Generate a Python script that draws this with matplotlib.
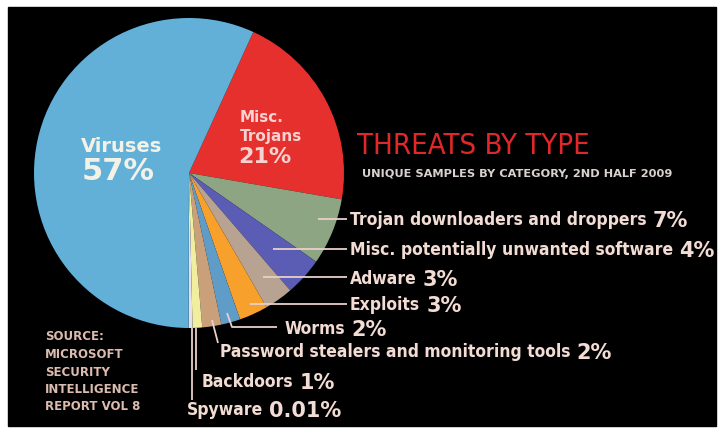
import matplotlib
matplotlib.use("Agg")
import matplotlib.pyplot as plt
from matplotlib.patches import Rectangle

# ---- data (clockwise from the top of the red slice) ----
slice_names = ["Misc. Trojans", "Trojan downloaders and droppers",
               "Misc. potentially unwanted software", "Adware", "Exploits",
               "Worms", "Password stealers and monitoring tools", "Backdoors",
               "Spyware", "Viruses"]
slice_shares = [21, 7, 4, 3, 3, 2, 2, 1, 0.4, 57]   # spyware drawn as a thin sliver
slice_colors = ["#e5302e", "#8ea583", "#5b5db5", "#b8a392", "#f7a12c",
                "#5f9cc8", "#c9a07a", "#f1eea0", "#e6e0ee", "#62b0d8"]

outer_names = ["Trojan downloaders and droppers", "Misc. potentially unwanted software",
               "Adware", "Exploits", "Worms", "Password stealers and monitoring tools",
               "Backdoors", "Spyware"]
outer_pcts = ["7%", "4%", "3%", "3%", "2%", "2%", "1%", "0.01%"]

source_lines = ["SOURCE:", "MICROSOFT", "SECURITY", "INTELLIGENCE", "REPORT VOL 8"]

# ---- layout (pixel coords of the 725x432 picture, y from top) ----
H = 432
label_xy = [(350, 220), (350, 250), (350, 279), (350, 305), (285, 329),
            (220, 352), (202, 382), (187, 410)]
leaders = [
    [(318, 219), (347, 219)],
    [(273, 249), (347, 249)],
    [(263, 277), (347, 277)],
    [(250, 304), (347, 304)],
    [(227, 313), (232, 327), (277, 327)],
    [(212, 320), (218, 343)],
    [(196, 328), (196, 370)],
    [(192, 328), (192, 400)],
]

txt_col = "#f2dcd4"
line_col = "#e8d0c8"
bold = dict(fontweight="bold", family="DejaVu Sans")
cond = dict(fontweight="bold", family="DejaVu Sans", fontstretch="condensed")

fig = plt.figure(figsize=(7.25, 4.32), dpi=100)
fig.patch.set_facecolor("white")
ax = fig.add_axes([0, 0, 1, 1])
ax.add_patch(Rectangle((8, H - 426), 708, 419, color="black", zorder=0))

ax.pie(slice_shares, colors=slice_colors, startangle=65.5, counterclock=False,
       center=(189, H - 173), radius=155, wedgeprops=dict(linewidth=0))
ax.set_xlim(0, 725)
ax.set_ylim(0, H)
ax.set_aspect("equal")
ax.axis("off")

# labels inside the pie
ax.text(122, H - 146, "Viruses", color="#f4f1e6", fontsize=14, ha="center", va="center", **bold)
ax.text(118, H - 172, "57%", color="#f4f1e6", fontsize=22, ha="center", va="center", **bold)
ax.text(262, H - 118, "Misc.", color="#f6d2d0", fontsize=11, ha="center", va="center", **bold)
ax.text(271, H - 137, "Trojans", color="#f6d2d0", fontsize=11, ha="center", va="center", **bold)
ax.text(265, H - 157, "21%", color="#f6d2d0", fontsize=16, ha="center", va="center", **bold)

# title block
ax.text(357, H - 146, "THREATS BY TYPE", color="#e0282a", fontsize=21,
        family="DejaVu Sans", fontstretch="condensed", ha="left", va="center")
ax.text(362, H - 174, "UNIQUE SAMPLES BY CATEGORY, 2ND HALF 2009", color="#d9d2d0",
        fontsize=8.2, ha="left", va="center", **bold)

for i, line in enumerate(source_lines):
    ax.text(45, H - (337 + 17.5 * i), line, color="#dcbcae", fontsize=8.5,
            ha="left", va="center", **bold)

# outer labels with leader lines
fig.canvas.draw()
renderer = fig.canvas.get_renderer()
inv = ax.transData.inverted()
for name, pct, (x, y), pts in zip(outer_names, outer_pcts, label_xy, leaders):
    t = ax.text(x, H - y, name, color=txt_col, fontsize=12.5,
                ha="left", va="center", **cond)
    bb = t.get_window_extent(renderer)
    x_end = inv.transform((bb.x1, bb.y0))[0]
    ax.text(x_end + 6, H - y - 1, pct, color=txt_col, fontsize=15,
            ha="left", va="center", **bold)
    xs = [p[0] for p in pts]
    ys = [H - p[1] for p in pts]
    ax.plot(xs, ys, color=line_col, lw=1.3, solid_capstyle="butt")

fig.savefig("out.png", dpi=100, facecolor="white")
